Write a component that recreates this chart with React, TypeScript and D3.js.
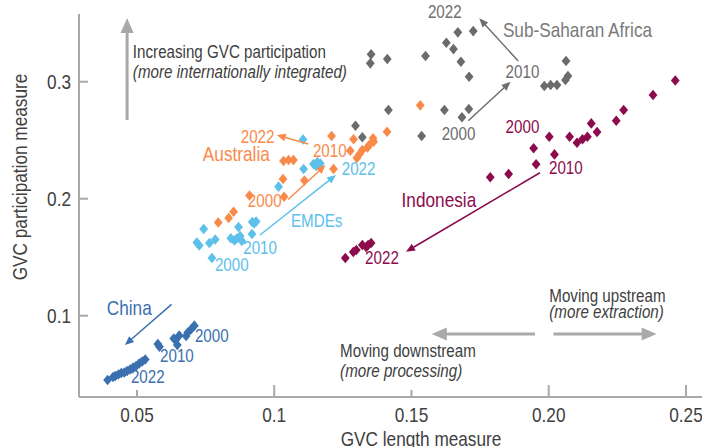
import React from "react";
import * as d3 from "d3";

// [GVC length, GVC participation], 2000 -> 2022
const china: [number, number][] = [
  [0.0709, 0.0915], [0.0698, 0.0886], [0.0685, 0.0856], [0.0679, 0.0827], [0.0654, 0.0831],
  [0.0634, 0.0805], [0.0641, 0.0792], [0.0647, 0.075], [0.0582, 0.0735], [0.0576, 0.0758],
  [0.053, 0.0626], [0.0519, 0.0609], [0.0508, 0.0591], [0.0497, 0.057], [0.0486, 0.0557],
  [0.0475, 0.054], [0.0464, 0.0527], [0.0454, 0.0514], [0.0443, 0.051], [0.0432, 0.0497],
  [0.0421, 0.0485], [0.0413, 0.0476], [0.0393, 0.045],
];
const emdes: [number, number][] = [
  [0.0773, 0.1493], [0.0718, 0.1626], [0.0727, 0.16], [0.0743, 0.1741], [0.0764, 0.1621],
  [0.0785, 0.1651], [0.0842, 0.1662], [0.0855, 0.1643], [0.0864, 0.166], [0.0876, 0.1681],
  [0.0882, 0.1638], [0.087, 0.1758], [0.0919, 0.1698], [0.092, 0.1801], [0.0927, 0.1788],
  [0.0934, 0.1805], [0.1016, 0.2103], [0.1105, 0.2506], [0.1107, 0.2254], [0.1143, 0.2297],
  [0.1153, 0.228], [0.1157, 0.2314], [0.1168, 0.2301],
];
const australia: [number, number][] = [
  [0.0796, 0.1797], [0.0834, 0.1835], [0.0852, 0.1889], [0.091, 0.2027], [0.1036, 0.2017],
  [0.1032, 0.2168], [0.111, 0.2156], [0.1034, 0.2322], [0.1052, 0.2331], [0.107, 0.2331],
  [0.1216, 0.2254], [0.1209, 0.2536], [0.1277, 0.241], [0.1289, 0.2508], [0.1301, 0.2348],
  [0.1311, 0.2382], [0.1321, 0.2416], [0.134, 0.2439], [0.1346, 0.2459], [0.136, 0.2516],
  [0.1362, 0.2487], [0.1411, 0.2573], [0.1532, 0.2798],
];
const ssa: [number, number][] = [
  [0.1296, 0.2624], [0.1321, 0.2525], [0.1416, 0.2758], [0.1537, 0.2536], [0.162, 0.2758],
  [0.1684, 0.2696], [0.1709, 0.2767], [0.171, 0.3043], [0.1984, 0.2963], [0.2007, 0.2972],
  [0.203, 0.2972], [0.2061, 0.3015], [0.207, 0.3049], [0.2063, 0.3177], [0.168, 0.3171],
  [0.1653, 0.3279], [0.1627, 0.3333], [0.1669, 0.3422], [0.1725, 0.3433], [0.1551, 0.322],
  [0.1412, 0.3194], [0.135, 0.3157], [0.1353, 0.3234],
];
const indonesia: [number, number][] = [
  [0.1945, 0.2431], [0.2002, 0.253], [0.2076, 0.253], [0.2103, 0.2479], [0.2123, 0.2508],
  [0.2141, 0.253], [0.2176, 0.257], [0.2155, 0.2644], [0.2246, 0.2667], [0.2273, 0.2758],
  [0.238, 0.2886], [0.2461, 0.301], [0.2021, 0.2379], [0.1954, 0.2294], [0.1854, 0.2211],
  [0.1787, 0.2183], [0.1353, 0.1621], [0.1342, 0.1604], [0.1335, 0.1587], [0.1321, 0.1604],
  [0.1299, 0.1561], [0.1288, 0.1544], [0.1259, 0.1493],
];

const xTicks = [0.05, 0.1, 0.15, 0.2, 0.25];
const xTickLabels = ["0.05", "0.1", "0.15", "0.20", "0.25"];
const yTicks = [0.1, 0.2, 0.3];
const yTickLabels = ["0.1", "0.2", "0.3"];

const C = {
  china: "#3b70b0",
  emdes: "#5dc0ea",
  australia: "#f98a4a",
  ssa: "#6b6b6b",
  indonesia: "#8c0b4c",
  guide: "#a9a9a9",
  text: "#404040",
};

const series = [
  { data: china, color: C.china },
  { data: emdes, color: C.emdes },
  { data: australia, color: C.australia },
  { data: ssa, color: C.ssa },
  { data: indonesia, color: C.indonesia },
];

// labels in data units: [x, y, text, color, size, italic]
type Lab = [number, number, string, string, number, boolean?];
const labels: Lab[] = [
  [0.156, 0.3544, "2022", "#6e6e6e", 18.5],
  [0.1833, 0.3386, "Sub-Saharan Africa", "#7a7a7a", 21],
  [0.1843, 0.3032, "2010", "#6e6e6e", 18.5],
  [0.161, 0.2502, "2000", "#6e6e6e", 18.5],
  [0.1843, 0.2562, "2000", C.indonesia, 18.5],
  [0.2001, 0.2211, "2010", C.indonesia, 18.5],
  [0.1464, 0.1929, "Indonesia", C.indonesia, 21],
  [0.1331, 0.1442, "2022", C.indonesia, 18.5],
  [0.0878, 0.2476, "2022", C.australia, 18.5],
  [0.074, 0.2322, "Australia", C.australia, 21],
  [0.1141, 0.2359, "2010", C.australia, 18.5],
  [0.0904, 0.1929, "2000", C.australia, 18.5],
  [0.1246, 0.2203, "2022", C.emdes, 18.5],
  [0.1061, 0.1761, "EMDEs", C.emdes, 18.5],
  [0.0887, 0.153, "2010", C.emdes, 18.5],
  [0.0784, 0.1385, "2000", C.emdes, 18.5],
  [0.039, 0.1006, "China", C.china, 21],
  [0.0711, 0.0778, "2000", C.china, 18.5],
  [0.0584, 0.0607, "2010", C.china, 18.5],
  [0.0478, 0.0422, "2022", C.china, 18.5],
  [0.0485, 0.3203, "Increasing GVC participation", C.text, 18.5],
  [0.0485, 0.3036, "(more internationally integrated)", C.text, 18.5, true],
  [0.2002, 0.112, "Moving upstream", C.text, 18.5],
  [0.2002, 0.098, "(more extraction)", C.text, 18.5, true],
  [0.124, 0.065, "Moving downstream", C.text, 18.5],
  [0.124, 0.0476, "(more processing)", C.text, 18.5, true],
];

// arrows in data units: [x1, y1, x2, y2, color, thick]
type Arr = [number, number, number, number, string, boolean];
const arrows: Arr[] = [
  [0.0464, 0.2673, 0.0464, 0.3544, C.guide, true],
  [0.2017, 0.0844, 0.2393, 0.0844, C.guide, true],
  [0.195, 0.0844, 0.1574, 0.0844, C.guide, true],
  [0.1889, 0.3177, 0.1747, 0.3542, "#6e6e6e", false],
  [0.1707, 0.2667, 0.1861, 0.3, "#6e6e6e", false],
  [0.1968, 0.2222, 0.148, 0.1547, C.indonesia, false],
  [0.1124, 0.2468, 0.1009, 0.2544, C.australia, false],
  [0.1051, 0.1993, 0.1187, 0.2288, C.australia, false],
  [0.0948, 0.169, 0.1225, 0.2203, C.emdes, false],
  [0.0626, 0.1097, 0.0456, 0.075, C.china, false],
];

const W = 702;
const H = 447;
const left = 79;
const bottom = 397;
const top = 14;
const FONT = "'Liberation Sans', Arial, sans-serif";
const SQUEEZE = 0.82; // no narrow face installed, so condense horizontally

const x = d3.scaleLinear([0.02888, 0.25584], [left, W]);
const y = d3.scaleLinear([0.0305, 0.3579], [bottom, top]);

const diamond = (cx: number, cy: number) =>
  `M${cx},${cy - 5.3}L${cx + 4.4},${cy}L${cx},${cy + 5.3}L${cx - 4.4},${cy}Z`;

const NText = (p: {
  x: number; y: number; size: number; fill: string; anchor?: string;
  italic?: boolean; rotate?: number; children: React.ReactNode;
}) => (
  <text
    transform={`translate(${p.x},${p.y})${p.rotate ? ` rotate(${p.rotate})` : ""} scale(${SQUEEZE},1)`}
    fontSize={p.size}
    fill={p.fill}
    textAnchor={p.anchor ?? "start"}
    fontStyle={p.italic ? "italic" : "normal"}
  >
    {p.children}
  </text>
);

const Arrow = ({ a }: { a: Arr }) => {
  const [x1, y1, x2, y2, color, thick] = a;
  const px1 = x(x1), py1 = y(y1), px2 = x(x2), py2 = y(y2);
  const ang = Math.atan2(py2 - py1, px2 - px1);
  const len = thick ? 15 : 9;
  const half = thick ? 6.5 : 3.8;
  const bx = px2 - len * Math.cos(ang);
  const by = py2 - len * Math.sin(ang);
  const nx = -Math.sin(ang), ny = Math.cos(ang);
  const head = `M${px2},${py2}L${bx + nx * half},${by + ny * half}L${bx - nx * half},${by - ny * half}Z`;
  return (
    <g>
      <line x1={px1} y1={py1} x2={bx + len * 0.3 * Math.cos(ang)} y2={by + len * 0.3 * Math.sin(ang)}
        stroke={color} strokeWidth={thick ? 3 : 1.5} />
      <path d={head} fill={color} />
    </g>
  );
};

export default function App() {
  return (
    <svg width={W} height={H} style={{ position: "absolute", left: 0, top: 0 }} fontFamily={FONT}>
      <rect width={W} height={H} fill="#fff" />
      {/* axes */}
      <line x1={left} y1={top} x2={left} y2={bottom} stroke={C.guide} strokeWidth={2} />
      <line x1={left} y1={bottom} x2={W} y2={bottom} stroke={C.guide} strokeWidth={2} />
      {yTicks.map((t, i) => (
        <g key={t}>
          <line x1={left} x2={left + 9} y1={y(t)} y2={y(t)} stroke={C.guide} strokeWidth={2} />
          <NText x={left - 8} y={y(t) + 7.5} anchor="end" size={21} fill={C.text}>{yTickLabels[i]}</NText>
        </g>
      ))}
      {xTicks.map((t, i) => (
        <g key={t}>
          <line x1={x(t)} x2={x(t)} y1={bottom} y2={bottom - (i % 2 === 0 && i !== 4 ? 7 : 12)} stroke={C.guide} strokeWidth={2} />
          <NText x={x(t)} y={bottom + 25} anchor="middle" size={21} fill={C.text}>{xTickLabels[i]}</NText>
        </g>
      ))}
      <NText x={421} y={446} anchor="middle" size={21} fill={C.text}>GVC length measure</NText>
      <NText x={27} y={177} rotate={-90} anchor="middle" size={21} fill={C.text}>GVC participation measure</NText>
      {/* points */}
      {series.map((s, si) => (
        <g key={si} fill={s.color}>
          {s.data.map((d, i) => (
            <path key={i} d={diamond(x(d[0]), y(d[1]))} />
          ))}
        </g>
      ))}
      {arrows.map((a, i) => <Arrow key={i} a={a} />)}
      {labels.map((l, i) => (
        <NText key={i} x={x(l[0])} y={y(l[1])} fill={l[3]} size={l[4]} italic={l[5]}>
          {l[2]}
        </NText>
      ))}
    </svg>
  );
}
